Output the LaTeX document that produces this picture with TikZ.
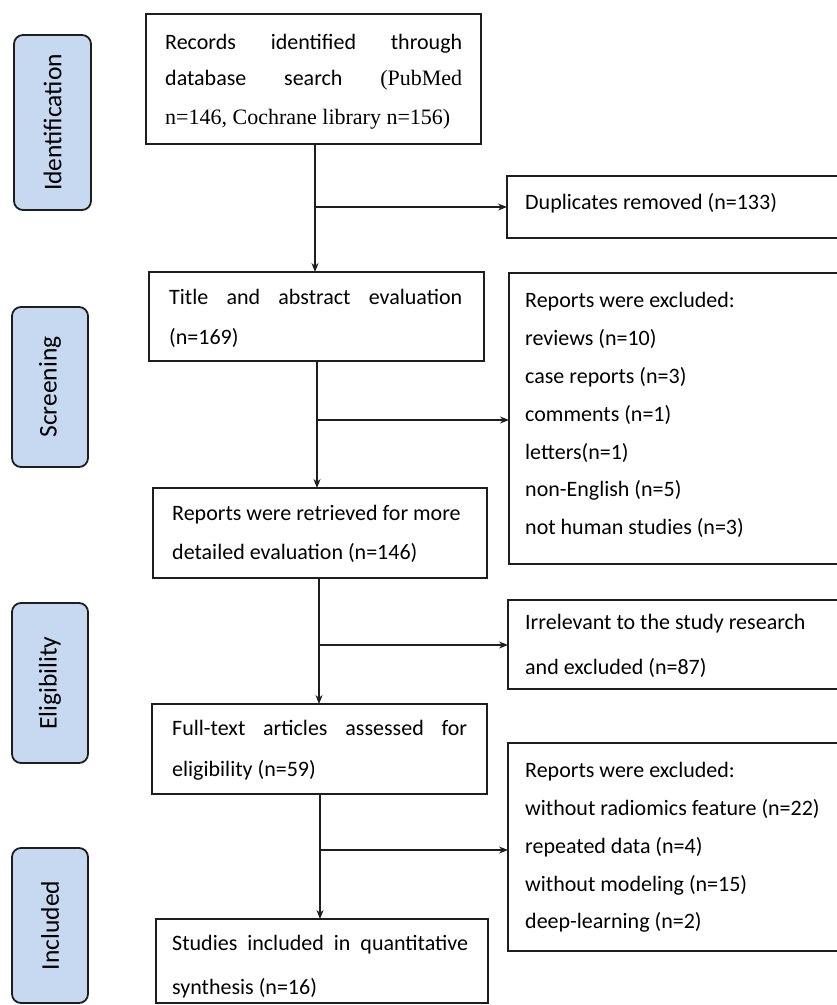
\documentclass[tikz,border=0pt]{standalone}
\usepackage{fontspec}
\setmainfont{Carlito}
\newfontfamily\tnr{Liberation Serif}
\usetikzlibrary{arrows.meta}
\definecolor{sidefill}{RGB}{198,217,241}
\definecolor{edge}{RGB}{30,30,30}
\begin{document}
\begin{tikzpicture}[x=1pt,y=-1pt,
 box/.style={draw=edge, line width=1.3pt, inner sep=0pt, outer sep=0pt},
 side/.style={draw=edge, line width=1.8pt, fill=sidefill, rounded corners=9pt, inner sep=0pt, outer sep=0pt, font=\fontsize{25.5}{30}\selectfont},
 t/.style={anchor=mid west, inner sep=0pt, font=\fontsize{22}{26}\selectfont},
 arr/.style={line width=1.3pt, draw=edge, -{Stealth[length=9pt,width=7pt]}}]
\useasboundingbox (0,0) rectangle (837,1005);
\clip (0,0) rectangle (837,1005);

% side labels
\node[side, minimum width=77pt, minimum height=175pt] (s1) at (52.5,122.5) {\rotatebox{90}{Identification}};
\node[side, minimum width=76pt, minimum height=160pt] (s2) at (50,387) {\rotatebox{90}{Screening}};
\node[side, minimum width=76pt, minimum height=160pt] (s3) at (50,683) {\rotatebox{90}{Eligibility}};
\node[side, minimum width=76pt, minimum height=155pt] (s4) at (50,925.5) {\rotatebox{90}{Included}};

% main boxes
\node[box, minimum width=335pt, minimum height=130pt] (b1) at (313.5,79) {};
\node[box, minimum width=335pt, minimum height=89pt] (b2) at (316.5,316.5) {};
\node[box, minimum width=334pt, minimum height=90pt] (b3) at (320,533) {};
\node[box, minimum width=335pt, minimum height=90pt] (b4) at (319.5,749) {};
\node[box, minimum width=332pt, minimum height=84pt] (b5) at (322,961) {};

% side boxes
\node[box, minimum width=343pt, minimum height=62pt] (d1) at (678.5,207) {};
\node[box, minimum width=341pt, minimum height=291pt] (e1) at (679.5,418.5) {};
\node[box, minimum width=342pt, minimum height=89pt] (i1) at (679,644.5) {};
\node[box, minimum width=342pt, minimum height=208pt] (e2) at (679,847) {};

% texts
\node[t, text width=297pt] (b1a) at (165,47) {Records\hfill identified\hfill through};
\node[t, text width=297pt] (b1b) at (165,83) {database\hfill search\hfill {\tnr(PubMed}};
\node[t] (b1c) at (165,122) {\tnr n=146, Cochrane library n=156)};

\node[t, text width=293pt] (b2a) at (169,302) {Title\hfill and\hfill abstract\hfill evaluation};
\node[t] (b2b) at (169,342) {(n=169)};

\node[t] (b3a) at (172,518) {Reports were retrieved for more};
\node[t] (b3b) at (172,557) {detailed evaluation (n=146)};

\node[t, text width=295pt] (b4a) at (172,733) {Full-text\hfill articles\hfill assessed\hfill for};
\node[t] (b4b) at (172,774) {eligibility (n=59)};

\node[t, text width=296pt] (b5a) at (172,948) {Studies\hfill included\hfill in\hfill quantitative};
\node[t] (b5b) at (172,992) {synthesis (n=16)};

\node[t] (d1a) at (525,207) {Duplicates removed (n=133)};

\node[t] (e1a) at (525,305) {Reports were excluded:};
\node[t] (e1b) at (525,343) {reviews (n=10)};
\node[t] (e1c) at (525,381) {case reports (n=3)};
\node[t] (e1d) at (525,419) {comments (n=1)};
\node[t] (e1e) at (525,457) {letters(n=1)};
\node[t] (e1f) at (525,494) {non-English (n=5)};
\node[t] (e1g) at (525,532) {not human studies (n=3)};

\node[t] (i1a) at (525,627) {Irrelevant to the study research};
\node[t] (i1b) at (525,672) {and excluded (n=87)};

\node[t] (e2a) at (525,775) {Reports were excluded:};
\node[t] (e2b) at (525,813) {without radiomics feature (n=22)};
\node[t] (e2c) at (525,851) {repeated data (n=4)};
\node[t] (e2d) at (525,889) {without modeling (n=15)};
\node[t] (e2e) at (525,926) {deep-learning (n=2)};

% connectors
\coordinate (j1) at (315,207);
\coordinate (j2) at (317,420);
\coordinate (j3) at (319,645);
\coordinate (j4) at (320,850);
\draw[arr] (b1.south -| j1) -- (b2.north -| j1);
\draw[arr] (j1) -- (j1 -| d1.west);
\draw[arr] (b2.south -| j2) -- (b3.north -| j2);
\draw[arr] (j2) -- (j2 -| e1.west);
\draw[arr] (b3.south -| j3) -- (b4.north -| j3);
\draw[arr] (j3) -- (j3 -| i1.west);
\draw[arr] (b4.south -| j4) -- (b5.north -| j4);
\draw[arr] (j4) -- (j4 -| e2.west);
\end{tikzpicture}
\end{document}
